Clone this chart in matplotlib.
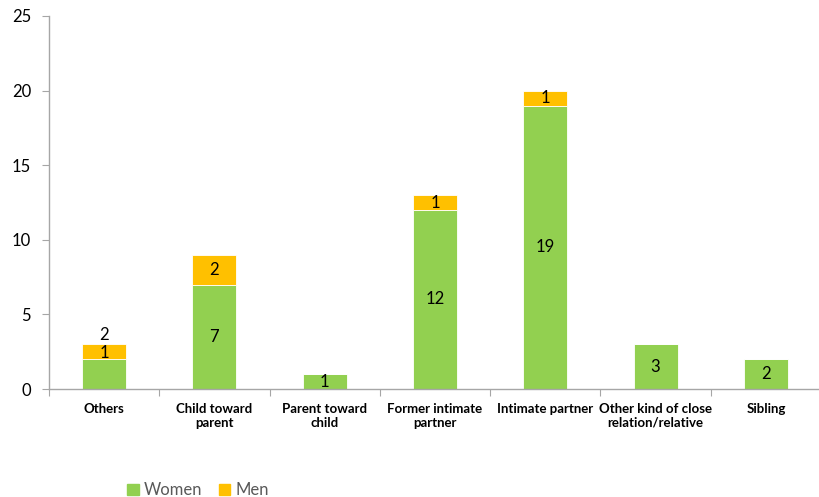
import matplotlib
matplotlib.use("Agg")
import matplotlib.pyplot as plt
from matplotlib.patches import Patch
import numpy as np

categories = ["Others", "Child toward\nparent", "Parent toward\nchild", "Former intimate\npartner",
              "Intimate partner", "Other kind of close\nrelation/relative", "Sibling"]
women = [2, 7, 1, 12, 19, 3, 2]
men = [1, 2, 0, 1, 1, 0, 0]

GREEN = "#92D050"
ORANGE = "#FFC000"
AXIS = "#A6A6A6"

plt.rcParams['font.family'] = ['Lato', 'DejaVu Sans']

fig = plt.figure(figsize=(8.2, 4.97), dpi=100)
ax = fig.add_axes([49/820, 1-389/497, 772/820, (389-16)/497])

x = np.arange(len(categories))
w = 0.4
ax.bar(x, women, width=w, color=GREEN, edgecolor="white", linewidth=0.6, zorder=2)
ax.bar(x, men, width=w, bottom=women, color=ORANGE, edgecolor="white", linewidth=0.6, zorder=2)

for i in range(len(categories)):
    if women[i] > 0:
        if i == 0:
            yw = women[i] + men[i] + 0.65
        else:
            yw = women[i] / 2
        ax.text(x[i], yw, str(women[i]), ha="center", va="center", fontsize=12, color="black", zorder=3)
    if men[i] > 0:
        ax.text(x[i], women[i] + men[i] / 2 - (0.1 if i == 0 else 0), str(men[i]), ha="center",
                va="center", fontsize=12, color="black", zorder=3)

ax.set_xlim(-0.5, len(categories) - 0.5)
ax.set_ylim(0, 25)
ax.set_yticks(range(0, 26, 5))
ax.set_yticklabels([str(v) for v in range(0, 26, 5)], fontsize=12)
ax.set_xticks(np.arange(-0.5, len(categories), 1.0))
ax.set_xticklabels([])
ax.set_xticks(x, minor=True)
ax.set_xticklabels(categories, minor=True, fontsize=9.5, fontweight="bold")
ax.tick_params(axis="x", which="minor", length=0, pad=10)
ax.tick_params(axis="x", which="major", length=5, color=AXIS, direction="out")
ax.tick_params(axis="y", length=5, color=AXIS, direction="out", pad=8)

for s in ["top", "right"]:
    ax.spines[s].set_visible(False)
for s in ["left", "bottom"]:
    ax.spines[s].set_color(AXIS)
    ax.spines[s].set_linewidth(1.0)

handles = [Patch(color=GREEN, label="Women"), Patch(color=ORANGE, label="Men")]
fig.legend(handles=handles, loc="lower left", bbox_to_anchor=(112/820, -0.033), ncol=2, frameon=False,
           fontsize=12, handlelength=0.7, handleheight=0.7, handletextpad=0.3, columnspacing=1.0,
           labelcolor="#595959")

fig.savefig("out.png", dpi=100)
